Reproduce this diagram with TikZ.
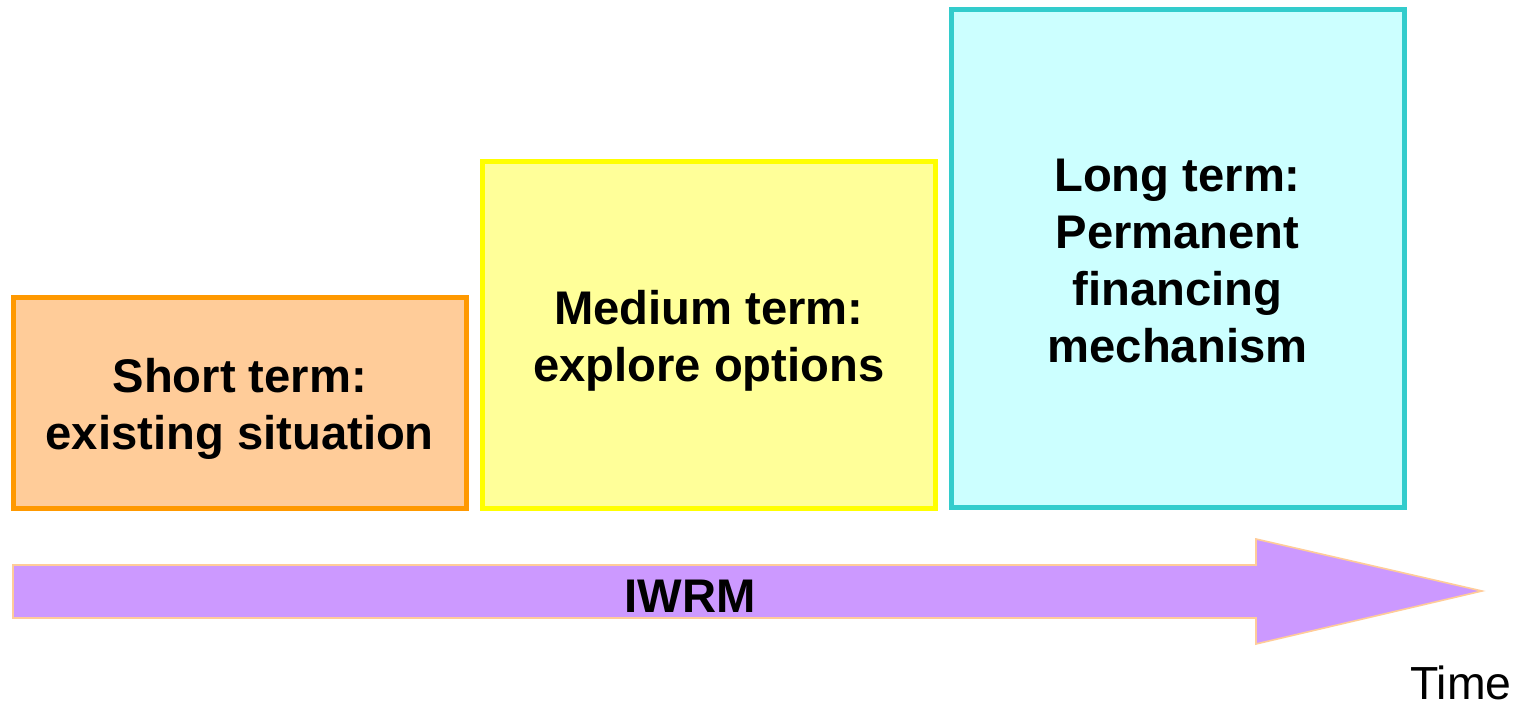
\documentclass[tikz,border=0pt]{standalone}
\usepackage{fontspec}
\setmainfont{Liberation Sans}
\definecolor{orB}{HTML}{FF9900}
\definecolor{orF}{HTML}{FFCC99}
\definecolor{yeB}{HTML}{FFFF00}
\definecolor{yeF}{HTML}{FFFF99}
\definecolor{cyB}{HTML}{33CCCC}
\definecolor{cyF}{HTML}{CCFFFF}
\definecolor{arF}{HTML}{CC99FF}
\definecolor{arB}{HTML}{FFCC99}
\begin{document}
\begin{tikzpicture}[x=0.5pt,y=-0.5pt,
  phase/.style={draw=#1B,fill=#1F,line width=2.5pt,inner sep=0pt},
  lbl/.style={align=center,inner sep=0pt,font=\fontsize{23.6}{28.5}\selectfont\bfseries},
]
\useasboundingbox (0,0) rectangle (1527,702);
\node[phase=or, minimum width=226.25pt, minimum height=105.5pt] (short) at (239.75,402.5) {};
\node[phase=ye, minimum width=226.25pt, minimum height=173.5pt] (medium) at (708.75,334.5) {};
\node[phase=cy, minimum width=226.5pt, minimum height=248.65pt] (long) at (1177.5,258.35) {};
\node[lbl, yshift=-3pt] (shortlbl) at (short.center) {Short term:\\existing situation};
\node[lbl, yshift=-3pt] (mediumlbl) at (medium.center) {Medium term:\\explore options};
\node[lbl, yshift=-1.5pt] (longlbl) at (long.center) {Long term:\\Permanent\\financing\\mechanism};
\draw[draw=arB,fill=arF,line width=0.8pt,line join=miter]
  (13,565) -- (1256,565) -- (1256,539) -- (1482,591) -- (1256,644) -- (1256,618) -- (13,618) -- cycle;
\node[font=\fontsize{23.6}{28.5}\selectfont\bfseries] (iwrm) at (690,596) {IWRM};
\node[font=\fontsize{23.2}{28}\selectfont, anchor=base east, inner sep=0pt] (time) at (1512,699) {Time};
\end{tikzpicture}
\end{document}
